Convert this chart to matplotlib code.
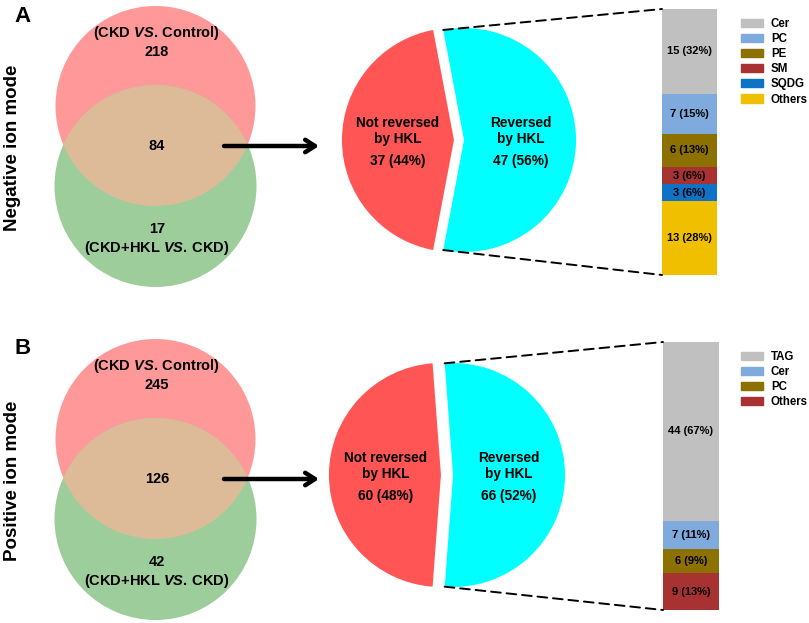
import matplotlib
matplotlib.use('Agg')
import matplotlib.pyplot as plt
import matplotlib.patches as mpatches
from matplotlib.patches import ConnectionPatch
import numpy as np

plt.rcParams['font.family'] = ['Liberation Sans', 'DejaVu Sans']
plt.rcParams['font.weight'] = 'bold'
plt.rcParams['mathtext.fontset'] = 'custom'
plt.rcParams['mathtext.it'] = 'Liberation Sans:italic:bold'
plt.rcParams['mathtext.rm'] = 'Liberation Sans:bold'
plt.rcParams['mathtext.bf'] = 'Liberation Sans:bold'

# data
modes = ['Negative ion mode', 'Positive ion mode']
panel_letters = ['A', 'B']
venn_only_ckd = [218, 245]
venn_shared = [84, 126]
venn_only_hkl = [17, 42]
pie_labels = ['Not reversed\nby HKL', 'Reversed\nby HKL']
pie_a = [37, 47]
pie_a_pct = [44, 56]
pie_b = [60, 66]
pie_b_pct = [48, 52]
bar_a_labels = ['Cer', 'PC', 'PE', 'SM', 'SQDG', 'Others']
bar_a_vals = [15, 7, 6, 3, 3, 13]
bar_a_pct = [32, 15, 13, 6, 6, 28]
bar_b_labels = ['TAG', 'Cer', 'PC', 'Others']
bar_b_vals = [44, 7, 6, 9]
bar_b_pct = [67, 11, 9, 13]

cls_colors = {'Cer': '#c0c0c0', 'PC': '#7eaade', 'PE': '#8c7000', 'SM': '#a83232',
              'SQDG': '#0e72c6', 'Others': '#f0c000'}
colors_b = ['#c0c0c0', '#7eaade', '#8c7000', '#a83232']

W, H = 809, 623
fig = plt.figure(figsize=(W / 100, H / 100), dpi=100)

bg = fig.add_axes([0, 0, 1, 1])
bg.set_xlim(0, W)
bg.set_ylim(H, 0)
bg.set_axis_off()


def px_box(cx, cy, half_w, half_h):
    return [(cx - half_w) / W, 1 - (cy + half_h) / H, 2 * half_w / W, 2 * half_h / H]


panels = [
    dict(dy=0, pie=pie_a, pct=pie_a_pct, pc=(459, 140), expl=0.045,
         labels=bar_a_labels, vals=bar_a_vals, bpct=bar_a_pct,
         bcols=[cls_colors[l] for l in bar_a_labels], bar=(662, 9, 717, 275), leg_top=18),
    dict(dy=333, pie=pie_b, pct=pie_b_pct, pc=(447, 475), expl=0.054,
         labels=bar_b_labels, vals=bar_b_vals, bpct=bar_b_pct,
         bcols=colors_b, bar=(663, 342, 719, 610), leg_top=351),
]

vs = '$\\mathit{VS.}\\,$'

for i, p in enumerate(panels):
    dy = p['dy']
    # letter and mode label
    bg.text(23, 16 + dy, panel_letters[i], fontsize=16, ha='center', va='center')
    bg.text(13, 148 + dy, modes[i], fontsize=13.5, rotation=90, ha='center', va='center')

    # venn
    top = mpatches.Circle((155.5, 106 + dy), 100, facecolor='#ff9999', edgecolor='none')
    bot = mpatches.Circle((155.5, 186 + dy), 101, facecolor='#9dcd9a', edgecolor='none')
    bg.add_patch(top)
    bg.add_patch(bot)
    ov = mpatches.Circle((155.5, 106 + dy), 100, facecolor='#debb98', edgecolor='none')
    bg.add_patch(ov)
    ov.set_clip_path(bot)
    bg.text(157, 33 + dy, '(CKD ' + vs + 'Control)', fontsize=10.5, ha='center', va='center')
    bg.text(157, 52 + dy, str(venn_only_ckd[i]), fontsize=10.5, ha='center', va='center')
    bg.text(157, 146 + dy, str(venn_shared[i]), fontsize=10.5, ha='center', va='center')
    bg.text(157, 229 + dy, str(venn_only_hkl[i]), fontsize=10.5, ha='center', va='center')
    bg.text(157, 248 + dy, '(CKD+HKL ' + vs + 'CKD)', fontsize=10.5, ha='center', va='center')

    # arrow
    bg.annotate('', xy=(319, 146 + dy), xytext=(224, 146 + dy),
                arrowprops=dict(arrowstyle='->,head_length=0.7,head_width=0.45',
                                lw=3.2, color='black', shrinkA=0, shrinkB=0))

    # pie
    cx, cy = p['pc']
    r = 112
    pax = fig.add_axes(px_box(cx, cy, 1.25 * r, 1.25 * r))
    frac = p['pie'][0] / sum(p['pie'])
    wedges, _ = pax.pie(p['pie'], colors=['#ff5555', '#00ffff'],
                        startangle=180 - frac * 180, explode=[p['expl'], p['expl']],
                        wedgeprops=dict(linewidth=0), frame=True)
    pax.set_xlim(-1.25, 1.25)
    pax.set_ylim(-1.25, 1.25)
    pax.set_axis_off()
    for j, xs in enumerate([-0.55, 0.55]):
        pax.text(xs, 0.08, pie_labels[j], fontsize=9.8, ha='center', va='center', linespacing=1.15)
        pax.text(xs, -0.19, f"{p['pie'][j]} ({p['pct'][j]}%)", fontsize=9.8, ha='center', va='center')

    # stacked bar
    x0, y0, x1, y1 = p['bar']
    bax = fig.add_axes([x0 / W, 1 - y1 / H, (x1 - x0) / W, (y1 - y0) / H])
    total = sum(p['vals'])
    bottoms = np.concatenate([[0], np.cumsum(p['vals'])[:-1]])
    bax.bar(np.zeros(len(p['vals'])), p['vals'], bottom=bottoms, width=1,
            color=p['bcols'], edgecolor='none')
    bax.set_xlim(-0.5, 0.5)
    bax.set_ylim(total, 0)
    bax.set_axis_off()
    for v, b, pc in zip(p['vals'], bottoms, p['bpct']):
        bax.text(0, b + v / 2, f'{v} ({pc}%)', fontsize=8, ha='center', va='center')

    # dashed connectors from cyan wedge to bar
    w = wedges[1]
    for ang, yb in [(w.theta2, 0), (w.theta1, total)]:
        px = w.center[0] + w.r * np.cos(np.radians(ang))
        py = w.center[1] + w.r * np.sin(np.radians(ang))
        con = ConnectionPatch(xyA=(px, py), coordsA=pax.transData,
                              xyB=(-0.5, yb), coordsB=bax.transData,
                              linestyle=(0, (5, 3)), lw=1.4, color='black')
        fig.add_artist(con)

    # legend
    handles = [mpatches.Patch(color=c) for c in p['bcols']]
    fig.legend(handles, p['labels'], loc='upper left',
               bbox_to_anchor=(741 / W, 1 - p['leg_top'] / H),
               frameon=False, fontsize=8.3, borderpad=0, borderaxespad=0,
               handlelength=1.9, handleheight=0.7, handletextpad=0.7, labelspacing=0.27)

fig.savefig('out.png', dpi=100)
